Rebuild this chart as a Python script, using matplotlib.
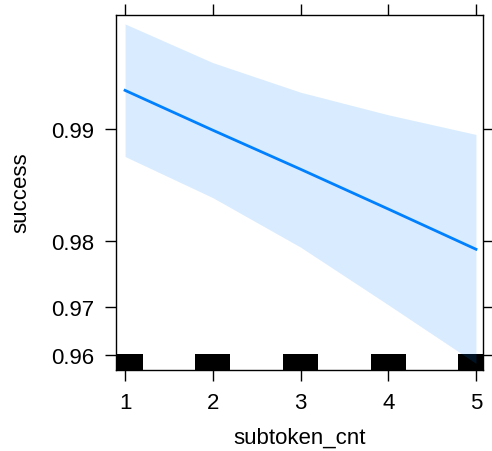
import numpy as np
import matplotlib.pyplot as plt
from matplotlib.ticker import FixedLocator, FixedFormatter, NullLocator

plt.rcParams['font.family'] = ['Liberation Sans', 'DejaVu Sans']

# effect of subtoken_cnt on success (logit scale)
subtoken_cnt = [1, 2, 3, 4, 5]
fit = [0.99212, 0.98991, 0.98715, 0.98357, 0.97896]
upper = [0.99479, 0.99337, 0.99203, 0.99083, 0.98964]
lower = [0.98812, 0.98468, 0.97923, 0.97046, 0.95792]

# observed values shown as a rug
rug_x = [1, 2, 3, 4, 5]

yticks = [0.96, 0.97, 0.98, 0.99]
ytick_labels = ['0.96', '0.97', '0.98', '0.99']

col = '#0080ff'

fig = plt.figure(figsize=(4.92, 4.52), dpi=100)
ax = fig.add_axes([0.2358, 0.1799, 0.7459, 0.7854])

for x in rug_x:
    ax.axvspan(x - 0.2, x + 0.2, ymin=0, ymax=0.045, color='black', lw=0, zorder=1)

ax.fill_between(subtoken_cnt, lower, upper, color=col, alpha=0.15, lw=0, zorder=2)
ax.plot(subtoken_cnt, fit, color=col, lw=2, zorder=3)

ax.set_yscale('logit')
ax.set_xlim(0.897, 5.08)
ax.set_ylim(0.95629, 0.995081)

ax.yaxis.set_major_locator(FixedLocator(yticks))
ax.yaxis.set_major_formatter(FixedFormatter(ytick_labels))
ax.yaxis.set_minor_locator(NullLocator())
ax.set_xticks(subtoken_cnt)

ax.tick_params(direction='out', length=8, width=1, labelsize=16, pad=8,
               top=True, right=True, labeltop=False, labelright=False)
for s in ax.spines.values():
    s.set_linewidth(1)

ax.set_xlabel('subtoken_cnt', fontsize=16, labelpad=10)
ax.set_ylabel('success', fontsize=16, labelpad=14)

fig.savefig('out.png', dpi=100)
